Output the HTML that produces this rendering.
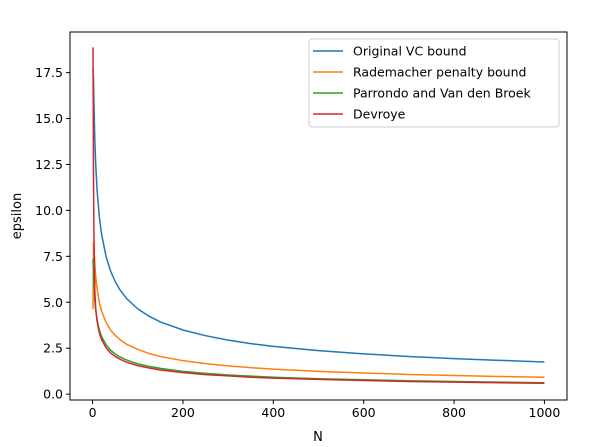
<!DOCTYPE html>
<html><head><meta charset="utf-8"><style>
body{margin:0;background:#fff;}
svg{display:block;font-family:"DejaVu Sans","Liberation Sans",sans-serif;}
</style></head><body>
<svg id="chart" width="605" height="447" viewBox="0 0 605 447">
<rect x="0" y="0" width="605" height="447" fill="#fff"/>
<g id="series"></g>
<rect x="70" y="32" width="497" height="368" fill="none" stroke="#000" stroke-width="1"/>
<g id="ticks"></g>
<text x="318" y="441" text-anchor="middle" font-size="13">N</text>
<text x="21" y="216" text-anchor="middle" font-size="13" transform="rotate(-90 21 216)">epsilon</text>
<g id="legend">
<rect x="309" y="39" width="250" height="88" rx="3" fill="#fff" fill-opacity="0.8" stroke="#ccc"/>
</g>
</svg>
<script>
const nValues=[1,2,3,5,7,10,15,20,30,40,50,60,75,100,125,150,200,250,300,350,400,500,600,700,800,900,1000];
const vcValues=[17.67,17.17,15.83,13.83,12.48,11.10,9.65,8.69,7.47,6.69,6.13,5.70,5.21,4.64,4.24,3.93,3.49,3.18,2.94,2.75,2.60,2.37,2.19,2.05,1.93,1.84,1.75];
const radValues=[4.63,8.23,7.90,7.05,6.41,5.73,5.00,4.51,3.89,3.48,3.20,2.98,2.72,2.43,2.21,2.05,1.82,1.66,1.54,1.44,1.36,1.24,1.15,1.07,1.01,0.96,0.92];
const parValues=[7.36,6.61,5.95,5.10,4.56,4.03,3.48,3.13,2.68,2.39,2.19,2.03,1.86,1.65,1.51,1.40,1.24,1.13,1.04,0.98,0.92,0.84,0.78,0.73,0.69,0.65,0.62];
const devValues=[18.87,12.0,8.62,5.59,4.67,3.96,3.33,2.96,2.52,2.24,2.05,1.91,1.74,1.55,1.42,1.31,1.17,1.06,0.99,0.92,0.87,0.80,0.74,0.69,0.65,0.62,0.59];
const seriesNames=["Original VC bound","Rademacher penalty bound","Parrondo and Van den Broek","Devroye"];
const seriesColors=["#1f77b4","#ff7f0e","#2ca02c","#d62728"];
const xTicks=[0,200,400,600,800,1000];
const yTicks=[0,2.5,5,7.5,10,12.5,15,17.5];
const yTickLabels=["0.0","2.5","5.0","7.5","10.0","12.5","15.0","17.5"];

const L=70,R=567,T=32,B=400;
const xMin=-49.95,xMax=1049.95,yMin=-0.32,yMax=19.71;
const sx=v=>L+(v-xMin)/(xMax-xMin)*(R-L);
const sy=v=>B-(v-yMin)/(yMax-yMin)*(B-T);
const NS="http://www.w3.org/2000/svg";
const mk=(t,a)=>{const e=document.createElementNS(NS,t);for(const k in a)e.setAttribute(k,a[k]);return e;};

const ticks=document.getElementById('ticks');
xTicks.forEach(v=>{
  const x=sx(v);
  const l=mk('line',{x1:x,x2:x,y1:B,y2:B+4,stroke:'#000'});
  
  
  ticks.appendChild(l);
  const t=mk('text',{x:x,y:B+17,'text-anchor':'middle','font-size':'12.5'});
  t.textContent=String(v);
  
  
  ticks.appendChild(t);
});
yTicks.forEach((v,i)=>{
  const y=sy(v);
  const l=mk('line',{x1:L-4,x2:L,y1:y,y2:y,stroke:'#000'});
  
  
  ticks.appendChild(l);
  const t=mk('text',{x:L-7,y:y+4.5,'text-anchor':'end','font-size':'12.5'});
  t.textContent=yTickLabels[i];
  
  
  ticks.appendChild(t);
});

const allSeries=[vcValues,radValues,parValues,devValues];
const sg=document.getElementById('series');
allSeries.forEach((vals,si)=>{
  const d=vals.map((v,i)=>(i?'L':'M')+sx(nValues[i]).toFixed(2)+','+sy(v).toFixed(2)).join(' ');
  const p=mk('path',{d:d,fill:'none',stroke:seriesColors[si],'stroke-width':'1.5','stroke-linejoin':'round'});
  
  
  sg.appendChild(p);
});

const lg=document.getElementById('legend');
seriesNames.forEach((n,i)=>{
  const y=51+i*21;
  const l=mk('line',{x1:313,x2:343,y1:y,y2:y,stroke:seriesColors[i],'stroke-width':'1.5'});
  
  
  lg.appendChild(l);
  const t=mk('text',{x:353,y:y+4.5,'font-size':'12.5'});
  t.textContent=n;
  
  
  lg.appendChild(t);
});
</script>
</body></html>
